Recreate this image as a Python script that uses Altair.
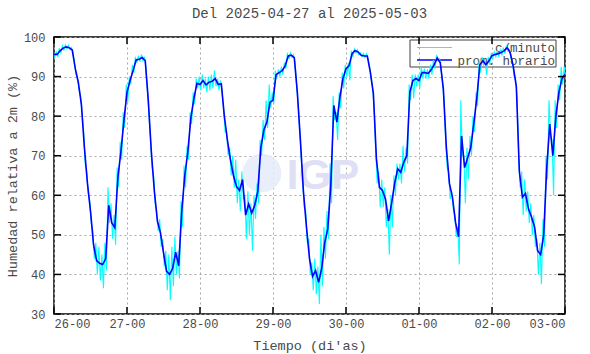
import altair as alt
import pandas as pd

# ---------------- data ----------------
series_names = ["c/minuto", "prom. horario"]
series_colors = ["#00ffff", "#0000ff"]
day_labels = ["26-00", "27-00", "28-00", "29-00", "30-00", "01-00", "02-00", "03-00"]
x_ticks = [0, 24, 48, 72, 96, 120, 144, 168]
y_ticks = [30, 40, 50, 60, 70, 80, 90, 100]

hours = list(range(169))

# hourly mean (blue line)
hourly = [95.6, 95.6, 96.5, 97.2, 97.5, 97.3, 96.7, 92, 88.5, 83,
          72, 63, 56, 47.5, 43.5, 42.8, 42.5, 44, 57.5, 53,
          51.8, 64.5, 71, 79, 86, 89, 91.5, 94.2, 94.4, 94.8,
          94, 84, 71, 61, 53.5, 50.5, 45.5, 40.8, 40, 41.5,
          45.6, 42.2, 56, 65, 71, 79.5, 84.5, 88.3, 88, 89,
          87.9, 88.6, 88.8, 89.5, 88, 88.2, 80, 74, 69, 65,
          62.2, 61.2, 64, 55, 57.8, 55.5, 57.5, 61, 72, 76.5,
          78.5, 83.5, 84, 90.5, 91, 91.5, 92.7, 95.2, 95.4, 94.8,
          86, 74, 61, 52, 44, 39.5, 41, 38, 41.5, 48,
          51.5, 62.4, 82.7, 78.5, 84.8, 89.5, 92, 92.7, 95.8, 96.6,
          96.2, 95.4, 95.2, 95.2, 91.1, 85.7, 69.2, 62, 61.2, 59,
          53.5, 58, 63, 66.7, 65.8, 68.4, 70, 86.1, 89, 89.5,
          89, 91, 91, 90.8, 91.7, 93, 94.7, 93.5, 86.9, 72,
          63, 59.5, 53.2, 49.5, 75, 67, 69.5, 72, 78, 84.5,
          93, 94, 93, 94, 95.3, 95.6, 95.8, 96.1, 96.5, 97.3,
          96, 92.5, 87.5, 66, 59.5, 60.5, 56.5, 54.5, 52, 46,
          45, 50, 67, 78, 70, 80, 86, 89.5, 90.5]

# per-minute data, read as low / high envelope for each hour (cyan)
minute_low = [95.0, 95.0, 96.0, 96.7, 97.0, 96.8, 96.0, 90.5, 86.5, 80.5,
              68, 60.5, 53, 44, 40, 38.5, 36.5, 41, 53, 49,
              47.5, 62, 69, 77, 83.5, 88, 91, 93.5, 93.8, 94,
              92, 80, 67, 58, 51, 47, 42, 36, 33.5, 37,
              40, 39, 52, 62, 69, 78, 83, 87, 86.5, 87,
              86, 86.5, 87, 87.5, 86.5, 86.5, 76, 70, 65, 62,
              58, 56, 59, 49, 50, 46, 54, 58, 70, 74,
              77, 82, 83, 89.5, 90, 90.5, 92, 94.5, 94.8, 93.5,
              83, 70, 57, 48, 40, 36, 35, 32.5, 37, 44,
              49, 58, 79, 74, 82, 87, 90, 89, 95, 96,
              95.5, 95, 94.8, 94.5, 89.5, 82, 63, 57, 57, 52,
              45, 52, 60, 64, 63, 66, 68, 84, 84.5, 87.5,
              87, 89.5, 89.5, 89.5, 90.5, 92, 94, 92, 84, 67,
              59, 56.5, 49.5, 42.5, 70, 58, 64, 70, 76, 82.5,
              91, 93, 90.5, 93, 94.5, 95, 95, 95.5, 95.8, 96.5,
              94.5, 90, 85, 62, 55, 56, 53, 50, 47, 40,
              37.5, 47, 64, 75, 60, 77, 84, 88, 89.5]
minute_high = [96.3, 96.2, 97.2, 97.8, 98.0, 97.9, 97.3, 93.5, 89.5, 85,
               76, 66, 58.5, 51, 48, 47, 45, 48, 62, 58,
               55, 67, 73.5, 81, 88, 90, 93, 95, 95.3, 95.6,
               95, 86, 74, 65, 56, 54, 49, 46, 45, 47,
               49.5, 46, 58.5, 67.5, 72.5, 81, 86, 89.5, 90, 90.5,
               89.5, 90, 90.5, 91.5, 89.5, 89, 82, 76, 72, 70,
               69, 64, 66, 60, 61, 58, 60, 63, 74, 79,
               84, 88, 86, 91.5, 91.8, 92.5, 93.5, 96, 96, 95.5,
               88, 77, 64, 56, 49, 43, 44, 42, 50, 52,
               56, 68, 85, 81, 86, 91, 93, 93.5, 96.5, 97,
               96.8, 96, 95.8, 95.8, 92.5, 87, 72, 66, 64, 62,
               56.5, 60, 65, 68, 68, 72.5, 72, 88, 90.5, 90.5,
               90.5, 92.5, 92, 91.8, 93, 94.2, 95.5, 94.5, 88.5, 74,
               66, 61, 55, 52, 84, 70, 72, 75, 80, 86,
               94, 95, 94, 95, 96, 96.2, 96.5, 96.7, 97.3, 97.8,
               96.8, 93.5, 89, 69.5, 66, 64, 61, 58, 55, 49,
               48, 54, 70, 84, 74, 84, 88, 92.5, 92.5]

# ---------------- tables ----------------
rows = []
for h, hi, lo in zip(hours, minute_high, minute_low):
    rows.append({"t": h - 0.25, "v": hi, "s": series_names[0]})
    rows.append({"t": h + 0.25, "v": lo, "s": series_names[0]})
df_min = pd.DataFrame(rows)
df_hour = pd.DataFrame({"t": hours, "v": hourly, "s": series_names[1]})
df_xt = pd.DataFrame({"t": x_ticks})
df_yt = pd.DataFrame({"v": y_ticks})
df_leg = pd.DataFrame({"s": series_names, "c": series_colors})

MONO = "Liberation Mono"
TXT = "#4a4a4a"
W, H = 511, 277

label_js = "[" + ",".join("'%s'" % d for d in day_labels) + "]"
x_axis = alt.Axis(values=x_ticks, labelExpr=label_js + "[round(datum.value/24)]",
                  title="Tiempo (di'as)", titleX=W / 2, titleY=31,
                  titleAlign="center", titleBaseline="middle",
                  labelPadding=4, labelBaseline="top")
y_axis = alt.Axis(values=y_ticks, title="Humedad relativa a 2m (%)",
                  titleX=-42, titleY=H / 2, titleAngle=270,
                  titleAlign="center", titleBaseline="middle",
                  labelPadding=9, labelBaseline="middle")
x_scale = alt.Scale(domain=[0, 168], nice=False, zero=False)
y_scale = alt.Scale(domain=[30, 100], nice=False, zero=False)

X = alt.X("t:Q", scale=x_scale, axis=x_axis)
Y = alt.Y("v:Q", scale=y_scale, axis=y_axis)

one = alt.Data(values=[{}])

# watermark
logo_circle = alt.Chart(one).mark_circle(color="#e4ecf9", opacity=0.85, size=1500).encode(
    x=alt.value(208), y=alt.value(136))
logo_text = alt.Chart(one).mark_text(text="IGP", font="Liberation Sans", fontSize=42,
                                     fontWeight="bold", color="#e0e0f4",
                                     align="center", baseline="middle").encode(
    x=alt.value(269), y=alt.value(139))

# legend
leg_box = alt.Chart(one).mark_rect(fill="transparent", stroke="#404040", strokeWidth=1).encode(
    x=alt.value(356), x2=alt.value(502), y=alt.value(3), y2=alt.value(30))
leg_line1 = alt.Chart(df_leg.iloc[[0]]).mark_rule(color=series_colors[0], strokeWidth=1).encode(
    x=alt.value(363), x2=alt.value(398), y=alt.value(10.5))
leg_line2 = alt.Chart(df_leg.iloc[[1]]).mark_rule(color=series_colors[1], strokeWidth=1.6).encode(
    x=alt.value(363), x2=alt.value(398), y=alt.value(23))
leg_txt1 = alt.Chart(df_leg.iloc[[0]]).mark_text(align="right", baseline="middle", font=MONO,
                                                 fontSize=12.5, color=TXT).encode(
    x=alt.value(501), y=alt.value(10.5), text="s:N")
leg_txt2 = alt.Chart(df_leg.iloc[[1]]).mark_text(align="right", baseline="middle", font=MONO,
                                                 fontSize=12.5, color=TXT).encode(
    x=alt.value(501), y=alt.value(23.5), text="s:N")

# inward ticks (gnuplot style)
xt_bot = alt.Chart(df_xt).mark_rule(color="black", strokeWidth=1.5).encode(
    x=X, y=alt.value(H - 7), y2=alt.value(H))
xt_top = alt.Chart(df_xt).mark_rule(color="black", strokeWidth=1.5).encode(
    x=X, y=alt.value(0), y2=alt.value(7))
yt_left = alt.Chart(df_yt).mark_rule(color="black", strokeWidth=1.5).encode(
    y=Y, x=alt.value(0), x2=alt.value(7))
yt_right = alt.Chart(df_yt).mark_rule(color="black", strokeWidth=1.5).encode(
    y=Y, x=alt.value(W - 7), x2=alt.value(W))

color_scale = alt.Scale(domain=series_names, range=series_colors)

line_min = alt.Chart(df_min).mark_line(strokeWidth=1.1, clip=True).encode(
    x=X, y=Y, color=alt.Color("s:N", scale=color_scale, legend=None))
line_hour = alt.Chart(df_hour).mark_line(strokeWidth=1.6, clip=True).encode(
    x=X, y=Y, color=alt.Color("s:N", scale=color_scale, legend=None))

chart = alt.layer(
    logo_circle, logo_text, leg_box, leg_line1, leg_line2, leg_txt1, leg_txt2,
    line_min, line_hour, xt_bot, xt_top, yt_left, yt_right
).properties(
    width=W, height=H,
    title=alt.TitleParams("Del 2025-04-27 al 2025-05-03", font=MONO, fontSize=14,
                          fontWeight="normal", color=TXT, anchor="middle", offset=10),
    padding={"left": 54, "top": 37, "right": 25, "bottom": 40},
    autosize=alt.AutoSizeParams(type="none"),
    background="white",
).configure_view(
    stroke="black", strokeWidth=1.5
).configure_axis(
    domain=False, ticks=False, grid=True, gridColor="#a8a8a8", gridDash=[2, 3],
    gridWidth=1, labelFont=MONO, labelFontSize=12, labelColor=TXT,
    titleFont=MONO, titleFontSize=13.5, titleFontWeight="normal", titleColor=TXT
)

chart.save("out.html", embed_options={"renderer": "svg", "actions": False})
